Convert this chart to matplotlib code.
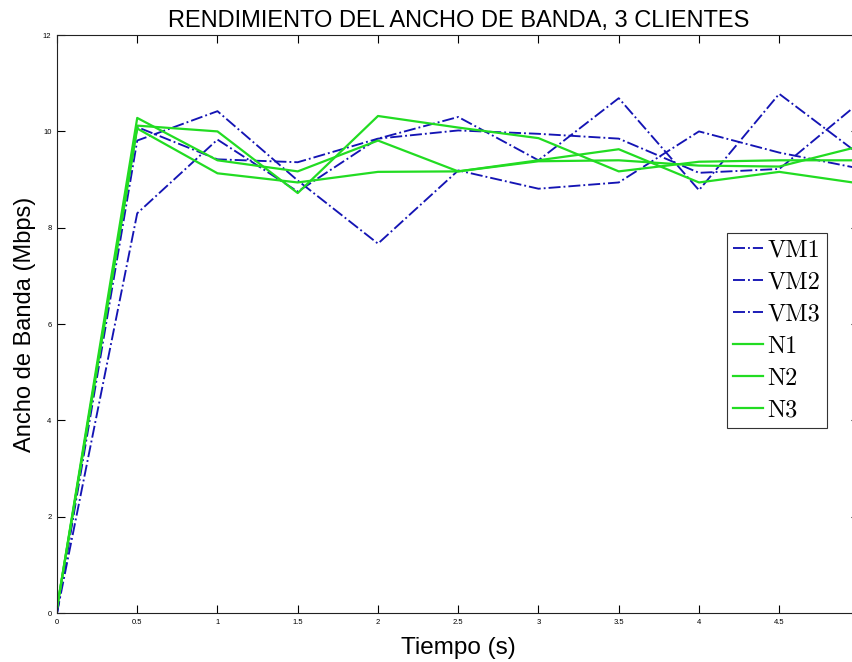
import matplotlib
matplotlib.use("Agg")
import matplotlib.pyplot as plt

# Bandwidth samples (Mbps) every 0.5 s for three VM clients and three native clients
tiempo = [0, 0.5, 1, 1.5, 2, 2.5, 3, 3.5, 4, 4.5, 5]
vm1 = [0, 9.81, 10.42, 8.98, 7.67, 9.19, 8.81, 8.94, 10.00, 9.56, 9.23]
vm2 = [0, 8.30, 9.83, 8.75, 9.85, 10.30, 9.40, 10.69, 8.78, 10.78, 9.52]
vm3 = [0, 10.09, 9.42, 9.36, 9.85, 10.02, 9.95, 9.85, 9.14, 9.22, 10.60]
n1 = [0.1, 10.12, 10.00, 8.72, 10.32, 10.08, 9.86, 9.17, 9.37, 9.40, 9.40]
n2 = [0.1, 10.28, 9.40, 9.17, 9.81, 9.17, 9.40, 9.63, 8.94, 9.16, 8.92]
n3 = [0.1, 10.06, 9.13, 8.94, 9.16, 9.17, 9.38, 9.40, 9.29, 9.27, 9.69]

vm_series = [("VM1", vm1), ("VM2", vm2), ("VM3", vm3)]
n_series = [("N1", n1), ("N2", n2), ("N3", n3)]

x_ticks = [0, 0.5, 1, 1.5, 2, 2.5, 3, 3.5, 4, 4.5]
x_tick_labels = ["0", "0.5", "1", "1.5", "2", "2.5", "3", "3.5", "4", "4.5"]
y_ticks = [0, 2, 4, 6, 8, 10, 12]

sans = ["Liberation Sans", "DejaVu Sans"]

fig = plt.figure(figsize=(8.53, 6.62), dpi=100)
ax = fig.add_axes([0.0668, 0.074, 0.9408, 0.873])

blue = "#1414b4"
green = "#22dc22"

for name, vals in vm_series:
    ax.plot(tiempo, vals, linestyle="-.", color=blue, linewidth=1.35, label=name)
for name, vals in n_series:
    ax.plot(tiempo, vals, linestyle="-", color=green, linewidth=1.6, label=name)

ax.set_xlim(0, 5)
ax.set_ylim(0, 12)
ax.set_xticks(x_ticks)
ax.set_xticklabels(x_tick_labels)
ax.set_yticks(y_ticks)
ax.tick_params(direction="in", length=6, width=0.8, labelsize=5.5,
               top=True, right=True, pad=4)
for lbl in ax.get_xticklabels() + ax.get_yticklabels():
    lbl.set_family(sans)

for sp in ax.spines.values():
    sp.set_linewidth(0.8)
    sp.set_color("#222222")

ax.set_title("RENDIMIENTO DEL ANCHO DE BANDA, 3 CLIENTES",
             fontsize=17, family=sans, pad=6)
ax.set_xlabel("Tiempo (s)", fontsize=17.5, family=sans, labelpad=8.5)
ax.set_ylabel("Ancho de Banda (Mbps)", fontsize=17, family=sans, labelpad=5)

leg = ax.legend(loc="upper right", bbox_to_anchor=(0.959, 0.657),
                prop={"family": "cmr10", "size": 17.5},
                frameon=True, fancybox=False, framealpha=1,
                edgecolor="#333333", handlelength=1.22, handletextpad=0.2,
                labelspacing=0.41, borderpad=0.25, borderaxespad=0)
leg.get_frame().set_linewidth(0.8)

fig.savefig("out.png", dpi=100)
